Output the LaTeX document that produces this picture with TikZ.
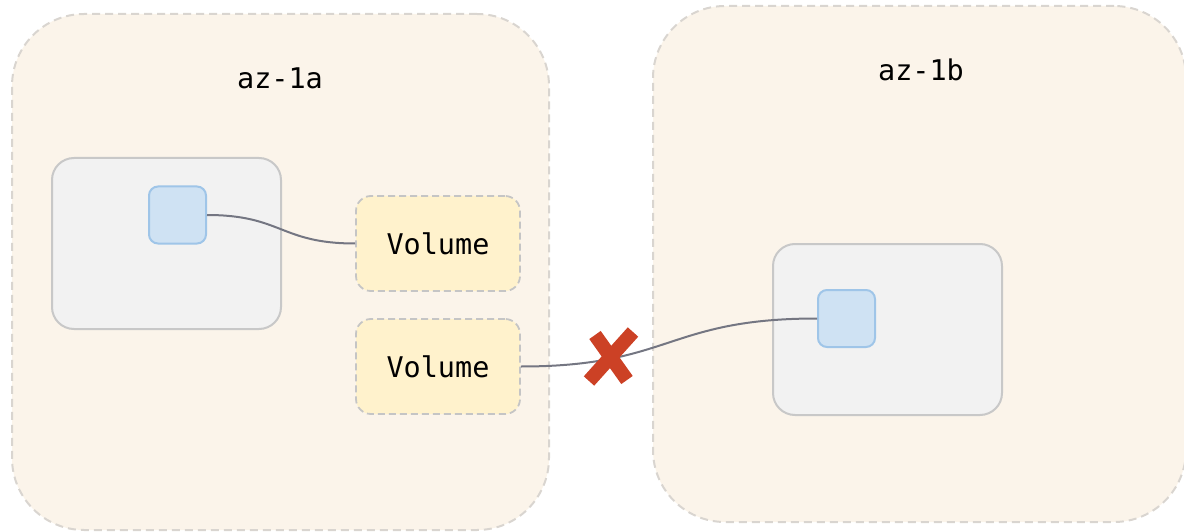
\documentclass[tikz,border=0pt]{standalone}
\usepackage{fontspec}
\newfontfamily\monolabel{DejaVu Sans Mono}
\definecolor{zonefill}{HTML}{FBF4EA}
\definecolor{zoneline}{HTML}{D9D5D0}
\definecolor{hostfill}{HTML}{F2F2F2}
\definecolor{hostline}{HTML}{C8C8C8}
\definecolor{podfill}{HTML}{CFE2F3}
\definecolor{podline}{HTML}{9FC5E8}
\definecolor{volfill}{HTML}{FFF2CC}
\definecolor{volline}{HTML}{C5C5C5}
\definecolor{wire}{HTML}{747682}
\definecolor{cross}{HTML}{CC4125}
\tikzset{
  zone/.style={draw=zoneline, fill=zonefill, line width=2pt, dash pattern=on 8pt off 5pt, rounded corners=72pt, inner sep=0pt},
  host/.style={draw=hostline, fill=hostfill, line width=2pt, rounded corners=22pt, inner sep=0pt},
  pod/.style={draw=podline, fill=podfill, line width=2pt, rounded corners=9pt, minimum width=57pt, minimum height=57pt, inner sep=0pt},
  vol/.style={draw=volline, fill=volfill, line width=1.8pt, dash pattern=on 7pt off 4pt, rounded corners=15pt, minimum width=164pt, minimum height=95pt, inner sep=0pt, font=\monolabel\fontsize{28.5}{32}\selectfont},
  zonelabel/.style={font=\monolabel\fontsize{28.5}{32}\selectfont, inner sep=0pt},
  link/.style={draw=wire, line width=2pt},
  xmark/.style={draw=cross, line width=14pt, line join=round}
}
\begin{document}
\begin{tikzpicture}[x=1pt, y=-1pt]
\useasboundingbox (0,0) rectangle (1184,532);
\begin{scope}
\clip (0,0) rectangle (1184,532);
% availability zones
\node[zone, minimum width=537pt, minimum height=516pt] (za) at (280.5,272) {};
\node[zone, minimum width=533pt, minimum height=516pt] (zb) at (919.5,264) {};
\end{scope}
\node[zonelabel] (la) at (280,78) {az-1a};
\node[zonelabel] (lb) at (921,70) {az-1b};
% hosts
\node[host, minimum width=229pt, minimum height=171pt] (ha) at (166.5,243.5) {};
\node[host, minimum width=229pt, minimum height=171pt] (hb) at (887.5,329.5) {};
% pods
\node[pod] (pa) at (177.5,215) {};
\node[pod] (pb) at (846.5,318.5) {};
% volumes
\node[vol] (v1) at (438,243.5) {Volume};
\node[vol] (v2) at (438,366.5) {Volume};
% attachments
\draw[link] (pa.east) .. controls ++(75,0) and ++(-75,0) .. (v1.west);
\draw[link] (v2.east) .. controls ++(150,0) and ++(-150,0) .. (pb.west);
% broken attachment marker
\coordinate (xa1) at (633,332);
\coordinate (xa2) at (589,381);
\coordinate (xb1) at (595,335);
\coordinate (xb2) at (627,380);
\draw[xmark] (xa1) -- (xa2);
\draw[xmark] (xb1) -- (xb2);
\end{tikzpicture}
\end{document}
